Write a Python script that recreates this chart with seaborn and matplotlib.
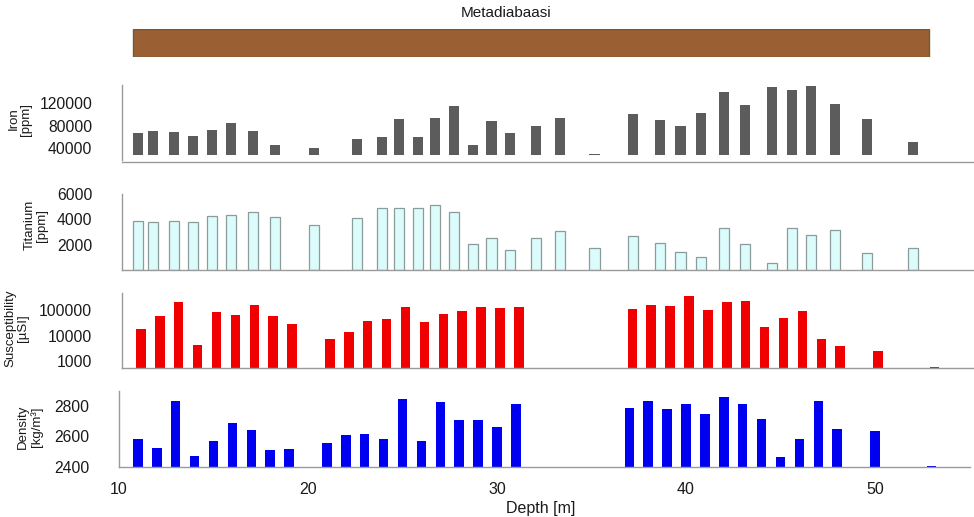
import numpy as np
import matplotlib
matplotlib.use("Agg")
import matplotlib.pyplot as plt
from matplotlib.ticker import MultipleLocator, FixedLocator, LogLocator, NullFormatter
import seaborn as sns

# lithology column
lith_name = "Metadiabaasi"
lith_top = 10.6
lith_bottom = 52.7

# XRF samples (depth in m)
xrf_depth = [10.85, 11.65, 12.75, 13.75, 14.75, 15.75, 16.95, 18.1, 20.15, 22.45,
             23.75, 24.65, 25.65, 26.55, 27.55, 28.55, 29.55, 30.55, 31.9, 33.2,
             35.0, 37.05, 38.45, 39.55, 40.65, 41.85, 42.95, 44.4, 45.45, 46.45,
             47.7, 49.4, 51.85]
iron_ppm = [66300, 70300, 69100, 62100, 72600, 84900, 69800, 45800, 41000, 56800,
            60400, 92600, 60400, 93700, 114200, 45800, 88400, 66300, 79700, 93700,
            29000, 100200, 90200, 78600, 103100, 139300, 116000, 148800, 143500, 151000,
            118200, 92000, 51000]
titanium_ppm = [3870, 3760, 3870, 3760, 4290, 4370, 4600, 4210, 3530, 4080,
                4870, 4870, 4870, 5100, 4600, 2030, 2550, 1600, 2500, 3100,
                1740, 2680, 2100, 1450, 1050, 3340, 2080, 580, 3340, 2760,
                3160, 1320, 1710]

# petrophysics samples (depth in m)
geo_depth = [11, 12, 13, 14, 15, 16, 17, 18, 19,
             21, 22, 23, 24, 25, 26, 27, 28, 29, 30, 31,
             37, 38, 39, 40, 41, 42, 43, 44, 45, 46, 47, 48,
             50, 53]
susceptibility = [17900, 61400, 209000, 4250, 86000, 67000, 169000, 61400, 29400,
                  7160, 13200, 36300, 45000, 132000, 35300, 69200, 91000, 141000, 120000, 141000,
                  117000, 164000, 145000, 387000, 103000, 216000, 229000, 20900, 49500, 97300, 7160, 3980,
                  2440, 540]
density = [2583, 2523, 2836, 2473, 2567, 2689, 2645, 2513, 2520,
           2556, 2611, 2618, 2583, 2845, 2571, 2827, 2707, 2709, 2665, 2813,
           2785, 2836, 2782, 2816, 2747, 2862, 2811, 2713, 2462, 2585, 2831, 2649,
           2636, 2403]

sns.set_style("white")
plt.rcParams["font.family"] = ["Liberation Sans", "DejaVu Sans"]

W, H = 974, 517
fig = plt.figure(figsize=(W / 100, H / 100), dpi=100)

AX_W = 850.5 / W
GREY = "#9a9a9a"


def px_axes(left_px, top_px, bottom_px):
    return fig.add_axes([left_px / W, 1 - bottom_px / H, AX_W, (bottom_px - top_px) / H])


def style(ax, major, minor=None):
    ax.set_xlim(10, 55)
    for s in ["top", "right"]:
        ax.spines[s].set_visible(False)
    for s in ["left", "bottom"]:
        ax.spines[s].set_color(GREY)
        ax.spines[s].set_linewidth(1.0)
    ax.xaxis.set_major_locator(MultipleLocator(10))
    ax.xaxis.set_minor_locator(MultipleLocator(5))
    ax.tick_params(axis="x", which="both", direction="out", length=3, width=0.8,
                   color=GREY, labelbottom=False, labelsize=11.5, labelcolor="#1a1a1a", pad=8)
    if major is not None:
        ax.yaxis.set_major_locator(FixedLocator(major))
    if minor is not None:
        ax.yaxis.set_minor_locator(FixedLocator(minor))
    ax.tick_params(axis="y", which="major", direction="out", length=14.5, width=0.8,
                   color=GREY, labelsize=11.3, labelcolor="#1a1a1a", pad=7)
    ax.tick_params(axis="y", which="minor", direction="out", length=7.5, width=0.8, color=GREY)
    ax.set_xlabel("")
    ax.set_ylabel("")
    ax.grid(False)


xrf_width = 0.53 / np.diff(xrf_depth).min()
geo_width = 0.5 / np.diff(geo_depth).min()

# lithology bar
ax0 = px_axes(122, 28.7, 57.3)
ax0.barh(0, lith_bottom - lith_top, left=lith_top, height=1.0,
         color="#9a5f32", edgecolor="#6e5a3c", linewidth=1.0)
ax0.set_xlim(10, 55)
ax0.set_ylim(-0.5, 0.5)
ax0.axis("off")
fig.text(506 / W, 1 - 13 / H, lith_name, ha="center", va="center", fontsize=11, color="#1a1a1a")

# Iron
ax1 = px_axes(122, 85, 155)
sns.barplot(x=xrf_depth, y=iron_ppm, native_scale=True, color="#5c5c5c", saturation=1,
            width=xrf_width, linewidth=0, errorbar=None, ax=ax1)
ax1.set_ylim(28000, 152000)
style(ax1, [40000, 80000, 120000], [60000, 100000, 140000])
ax1.spines["bottom"].set_position(("outward", 5))
ax1.spines["left"].set_bounds(19000, 152000)

# Titanium
ax2 = px_axes(122, 194, 270)
sns.barplot(x=xrf_depth, y=titanium_ppm, native_scale=True, color="#dcfcfc", saturation=1,
            width=xrf_width, linewidth=0.9, edgecolor="#8a9c9c", errorbar=None, ax=ax2)
ax2.set_ylim(0, 6000)
style(ax2, [2000, 4000, 6000], [1000, 3000, 5000])

# Susceptibility (log axis)
ax3 = px_axes(122, 292.7, 368.3)
ax3.set_yscale("log")
sns.barplot(x=geo_depth, y=susceptibility, native_scale=True,
            color="#f00000", saturation=1, width=geo_width, linewidth=0, errorbar=None, ax=ax3)
ax3.set_yscale("log", nonpositive="clip")
ax3.set_ylim(500, 500000)
style(ax3, [1000, 10000, 100000])
ax3.yaxis.set_minor_locator(LogLocator(base=10, subs=np.arange(2, 10)))
ax3.yaxis.set_minor_formatter(NullFormatter())
ax3.yaxis.set_major_formatter(plt.FuncFormatter(lambda v, p: f"{v:.0f}"))

# Density
ax4 = px_axes(119, 391, 466.7)
sns.barplot(x=geo_depth, y=density, native_scale=True, color="#0000f0", saturation=1,
            width=geo_width, linewidth=0, errorbar=None, ax=ax4)
ax4.set_ylim(2400, 2900)
style(ax4, [2400, 2600, 2800], [2500, 2700, 2900])
ax4.tick_params(axis="x", which="major", labelbottom=True)

# axis titles
ylab = dict(ha="center", va="center", rotation=90, fontsize=9.5, color="#1a1a1a",
            linespacing=1.05, multialignment="center")
fig.text(20 / W, 1 - 119 / H, "Iron\n[ppm]", **ylab)
fig.text(36 / W, 1 - 225 / H, "Titanium\n[ppm]", **ylab)
fig.text(17 / W, 1 - 328 / H, "Susceptibility\n[µSI]", **ylab)
fig.text(30 / W, 1 - 427 / H, "Density\n[kg/m³]", **ylab)
fig.text(541 / W, 1 - 508 / H, "Depth [m]", ha="center", va="center", fontsize=11.5, color="#1a1a1a")

fig.savefig("out.png", dpi=100)
